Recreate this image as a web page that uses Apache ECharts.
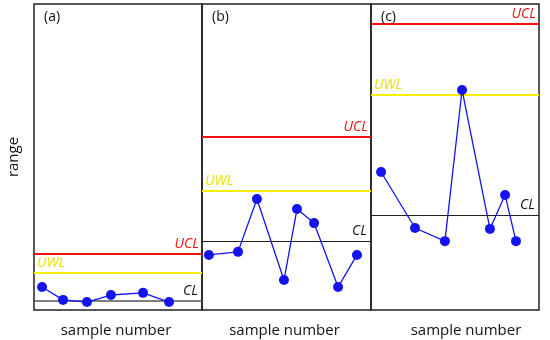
<!DOCTYPE html>
<html>
<head>
<meta charset="utf-8">
<script src="https://cdn.jsdelivr.net/npm/echarts@6/dist/echarts.min.js"></script>
<style>
  html, body { margin: 0; padding: 0; background: #fff; }
  #chart { width: 550px; height: 340px; }
</style>
</head>
<body>
<div id="chart"></div>
<script>
// Range control charts: three panels of sample ranges with control limits.
const panelTags = ['(a)', '(b)', '(c)'];

// Sample positions (along the sample axis, 0–100) and ranges for each panel
const samplesA = [4.8, 17.3, 31.5, 45.8, 64.9, 80.4];
const rangesA  = [7.5, 3.3, 2.6, 4.9, 5.6, 2.6];
const samplesB = [4.1, 21.3, 32.5, 48.5, 56.2, 66.3, 80.5, 91.7];
const rangesB  = [18.0, 19.0, 36.3, 9.8, 33.0, 28.4, 7.5, 18.0];
const samplesC = [6.0, 26.2, 44.0, 54.2, 70.8, 79.8, 86.3];
const rangesC  = [45.1, 26.8, 22.5, 71.9, 26.5, 37.6, 22.5];

// Control limits per panel: centre line, upper warning, upper control
const centreLines  = [3.0, 22.5, 31.0];
const warningLines = [12.1, 38.9, 70.3];
const controlLines = [18.3, 56.5, 93.5];

const samples = [samplesA, samplesB, samplesC];
const ranges = [rangesA, rangesB, rangesC];

const FONT = "'Open Sans', 'Noto Sans', sans-serif";
const grids = [
  { left: 34, top: 4, width: 168, height: 306 },
  { left: 202, top: 4, width: 169, height: 306 },
  { left: 371, top: 4, width: 168, height: 306 }
];

const chart = echarts.init(document.getElementById('chart'), null, { renderer: 'canvas' });

const option = {
  animation: false,
  backgroundColor: '#ffffff',
  grid: grids.map(g => Object.assign({
    show: true, borderColor: '#222', borderWidth: 1.5, backgroundColor: 'transparent',
    containLabel: false, outerBoundsMode: 'none'
  }, g)),
  title: panelTags.map((t, i) => ({
    text: t,
    left: grids[i].left + 5,
    top: 5,
    textStyle: { fontFamily: FONT, fontSize: 14, fontWeight: 'normal', color: '#111' }
  })),
  xAxis: [0, 1, 2].map(i => ({
    type: 'value', gridIndex: i, min: 0, max: 100,
    name: 'sample number',
    nameLocation: 'middle',
    nameGap: 13,
    nameTextStyle: {
      fontFamily: FONT, fontSize: 15, color: '#111',
      padding: i === 2 ? [0, 0, 0, 22] : [0, 4, 0, 0]
    },
    axisLine: { show: false }, axisTick: { show: false },
    axisLabel: { show: false }, splitLine: { show: false }
  })),
  yAxis: [0, 1, 2].map(i => ({
    type: 'value', gridIndex: i, min: 0, max: 100,
    name: i === 0 ? 'range' : '',
    nameLocation: 'middle',
    nameGap: 13,
    nameRotate: 90,
    nameTextStyle: { fontFamily: FONT, fontSize: 15, color: '#111' },
    axisLine: { show: false }, axisTick: { show: false },
    axisLabel: { show: false }, splitLine: { show: false }
  })),
  series: [0, 1, 2].map(i => ({
    type: 'line',
    xAxisIndex: i, yAxisIndex: i,
    data: samples[i].map((x, k) => [x, ranges[i][k]]),
    symbol: 'circle',
    symbolSize: 10,
    lineStyle: { color: '#1414f0', width: 1.3 },
    itemStyle: { color: '#1414f0' },
    z: 5,
    markLine: {
      silent: true,
      symbol: 'none',
      animation: false,
      data: [
        {
          yAxis: controlLines[i],
          lineStyle: { color: '#f01010', width: 2, type: 'solid' },
          label: {
            formatter: 'UCL', position: 'insideEndTop', distance: [3, 3],
            color: '#f01010', fontFamily: FONT, fontSize: 14, fontStyle: 'italic'
          }
        },
        {
          yAxis: warningLines[i],
          lineStyle: { color: '#f5ee00', width: 2, type: 'solid' },
          label: {
            formatter: 'UWL', position: 'insideStartTop', distance: [3, 3],
            color: '#e8e000', fontFamily: FONT, fontSize: 14, fontStyle: 'italic'
          }
        },
        {
          yAxis: centreLines[i],
          lineStyle: { color: i === 0 ? '#555' : '#222', width: i === 0 ? 1.5 : 1, type: 'solid' },
          label: {
            formatter: 'CL', position: 'insideEndTop', distance: [4, 3],
            color: '#111', fontFamily: FONT, fontSize: 14, fontStyle: 'italic'
          }
        }
      ]
    }
  }))
};

chart.setOption(option);
</script>
</body>
</html>
